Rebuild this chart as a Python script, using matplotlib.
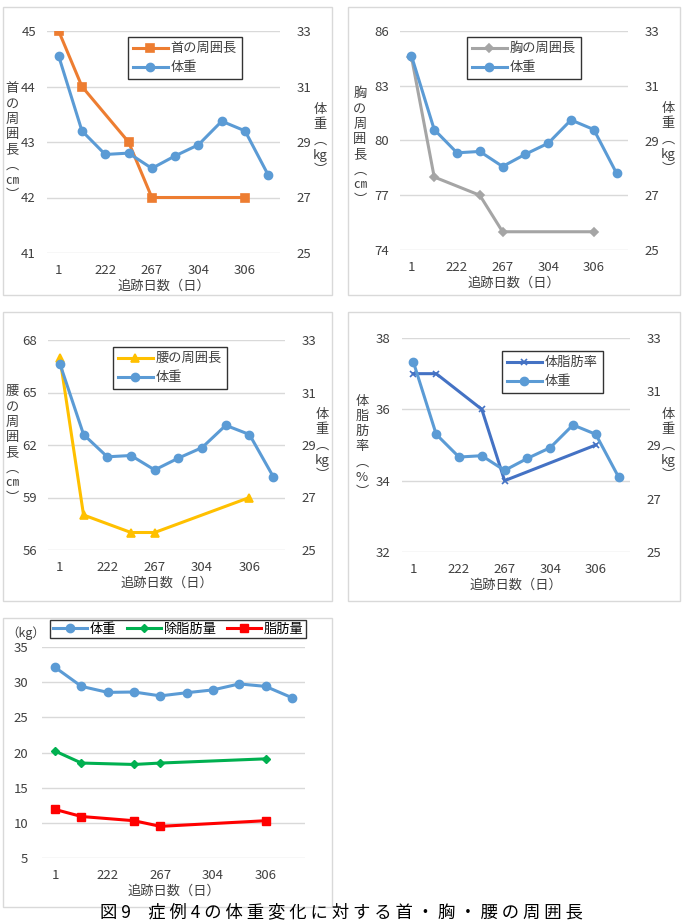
import numpy as np
import matplotlib
matplotlib.use('Agg')
import matplotlib.pyplot as plt
from matplotlib.patches import Rectangle

plt.rcParams['font.family'] = ['Noto Sans CJK JP', 'DejaVu Sans']

W, H = 682, 923

# data: 10 follow-up points, labels shown every other category
tick_labels = ['1', '222', '267', '304', '306']
weight = [32.1, 29.4, 28.55, 28.6, 28.05, 28.5, 28.9, 29.75, 29.4, 27.8]
neck = [45, 44, None, 43, 42, None, None, None, 42, None]
chest = [84.6, 78, None, 77, 75, None, None, None, 75, None]
waist = [67, 58, None, 57, 57, None, None, None, 59, None]
body_fat_pct = [37, 37, None, 36, 34, None, None, None, 35, None]
fat_free_mass = [20.2, 18.5, None, 18.3, 18.5, None, None, None, 19.1, None]
fat_mass = [11.9, 10.9, None, 10.3, 9.5, None, None, None, 10.3, None]

GRID = '#D9D9D9'
TXT = '#404040'
FS = 9.5


def pts(vals):
    x = [i for i, v in enumerate(vals) if v is not None]
    y = [v for v in vals if v is not None]
    return x, y


def fig_box(x0, y0, x1, y1):
    return [x0 / W, 1 - y1 / H, (x1 - x0) / W, (y1 - y0) / H]


def panel_border(fig, x0, y0, x1, y1):
    fig.patches.append(Rectangle((x0 / W, 1 - y1 / H), (x1 - x0) / W, (y1 - y0) / H,
                                 transform=fig.transFigure, fill=False, ec=GRID, lw=1))


def style_axis(ax, ylim, yticks):
    ax.set_xlim(-0.5, 9.5)
    ax.set_ylim(*ylim)
    ax.set_yticks(yticks)
    ax.set_xticks(range(0, 10, 2))
    ax.set_xticklabels(tick_labels)
    for s in ax.spines.values():
        s.set_visible(False)
    ax.tick_params(length=0, labelsize=FS, colors=TXT, pad=8)
    ax.grid(axis='y', color=GRID, lw=1)
    ax.set_axisbelow(True)


def stacked(fig, x, y, s):
    fig.text(x / W, 1 - y / H, '\n'.join(s), ha='center', va='center',
             fontsize=FS, color=TXT, linespacing=1.22)


def twin_panel(fig, box, ylim, yticks, series, left_label, left_pos, right_pos, leg_pos):
    ax = fig.add_axes(fig_box(*box))
    style_axis(ax, ylim, yticks)
    ax2 = ax.twinx()
    ax2.set_ylim(25, 33)
    ax2.set_yticks([25, 27, 29, 31, 33])
    for s in ax2.spines.values():
        s.set_visible(False)
    ax2.tick_params(length=0, labelsize=FS, colors=TXT, pad=12)
    vals, label, color, marker, ms = series
    x, y = pts(vals)
    h1, = ax.plot(x, y, color=color, lw=2.2, marker=marker, ms=ms, mew=1.2, label=label)
    h2, = ax2.plot(range(10), weight, color='#5B9BD5', lw=2.2, marker='o', ms=6, label='体重')
    ax.set_xlabel('追跡日数（日）', fontsize=FS, color=TXT, labelpad=2)
    stacked(fig, left_pos[0], left_pos[1], left_label)
    stacked(fig, right_pos[0], right_pos[1], ['体', '重', '︵', 'kg', '︶'])
    leg = ax2.legend([h1, h2], [label, '体重'], loc='upper left',
                     bbox_to_anchor=(leg_pos[0] / W, 1 - leg_pos[1] / H),
                     bbox_transform=fig.transFigure, fontsize=FS, frameon=True,
                     fancybox=False, edgecolor='black', borderpad=0.4,
                     handlelength=2.6, labelspacing=0.45, handletextpad=0.2, borderaxespad=0)
    leg.get_frame().set_linewidth(1.0)
    for t in leg.get_texts():
        t.set_color(TXT)
    return ax, ax2


fig = plt.figure(figsize=(W / 100, H / 100), dpi=100)

panel_border(fig, 3, 7, 332, 295)
panel_border(fig, 348, 7, 680, 295)
panel_border(fig, 3, 312, 332, 601)
panel_border(fig, 348, 312, 680, 601)
panel_border(fig, 3, 618, 332, 907)

twin_panel(fig, (47, 31, 280, 253), (41, 45), [41, 42, 43, 44, 45],
           (neck, '首の周囲長', '#ED7D31', 's', 6),
           ['首', 'の', '周', '囲', '長', '︵', '㎝', '︶'], (12, 142), (320, 140), (128, 37))

twin_panel(fig, (400, 31, 628, 250), (74, 86), [74, 77, 80, 83, 86],
           (chest, '胸の周囲長', '#A5A5A5', 'D', 4),
           ['胸', 'の', '周', '囲', '長', '︵', '㎝', '︶'], (360, 147), (668, 139), (467, 37))

twin_panel(fig, (48, 340, 285, 550), (56, 68), [56, 59, 62, 65, 68],
           (waist, '腰の周囲長', '#FFC000', '^', 6),
           ['腰', 'の', '周', '囲', '長', '︵', '㎝', '︶'], (12, 445), (322, 445), (113, 347))

twin_panel(fig, (402, 338, 630, 552), (32, 38), [32, 34, 36, 38],
           (body_fat_pct, '体脂肪率', '#4472C4', 'x', 5),
           ['体', '脂', '肪', '率', '︵', '%', '︶'], (362, 447), (668, 445), (502, 351))

# bottom-left panel: weight / fat-free mass / fat mass
ax = fig.add_axes(fig_box(42, 647, 305, 858))
style_axis(ax, (5, 35), [5, 10, 15, 20, 25, 30, 35])
ax.tick_params(axis='y', pad=10)
h1, = ax.plot(range(10), weight, color='#5B9BD5', lw=2.2, marker='o', ms=6, label='体重')
x, y = pts(fat_free_mass)
h2, = ax.plot(x, y, color='#00B050', lw=2.2, marker='D', ms=4, label='除脂肪量')
x, y = pts(fat_mass)
h3, = ax.plot(x, y, color='#FF0000', lw=2.2, marker='s', ms=6, label='脂肪量')
ax.set_xlabel('追跡日数（日）', fontsize=FS, color=TXT, labelpad=2)
fig.text(26 / W, 1 - 633 / H, '（kg）', ha='center', va='center', fontsize=FS - 0.5, color=TXT)
leg = ax.legend([h1, h2, h3], ['体重', '除脂肪量', '脂肪量'], loc='upper left',
                bbox_to_anchor=(50 / W, 1 - 620 / H), bbox_transform=fig.transFigure,
                ncol=3, fontsize=FS, fancybox=False, edgecolor='black', borderpad=0.2,
                handlelength=2.6, handletextpad=0.2, columnspacing=0.8, borderaxespad=0)
leg.get_frame().set_linewidth(1.0)

fig.text(341 / W, 1 - 921 / H, '図 9　症 例 4 の 体 重 変 化 に 対 す る 首 ・ 胸 ・ 腰 の 周 囲 長',
         ha='center', va='bottom', fontsize=12.5, color='black')

fig.savefig('out.png', dpi=100)
